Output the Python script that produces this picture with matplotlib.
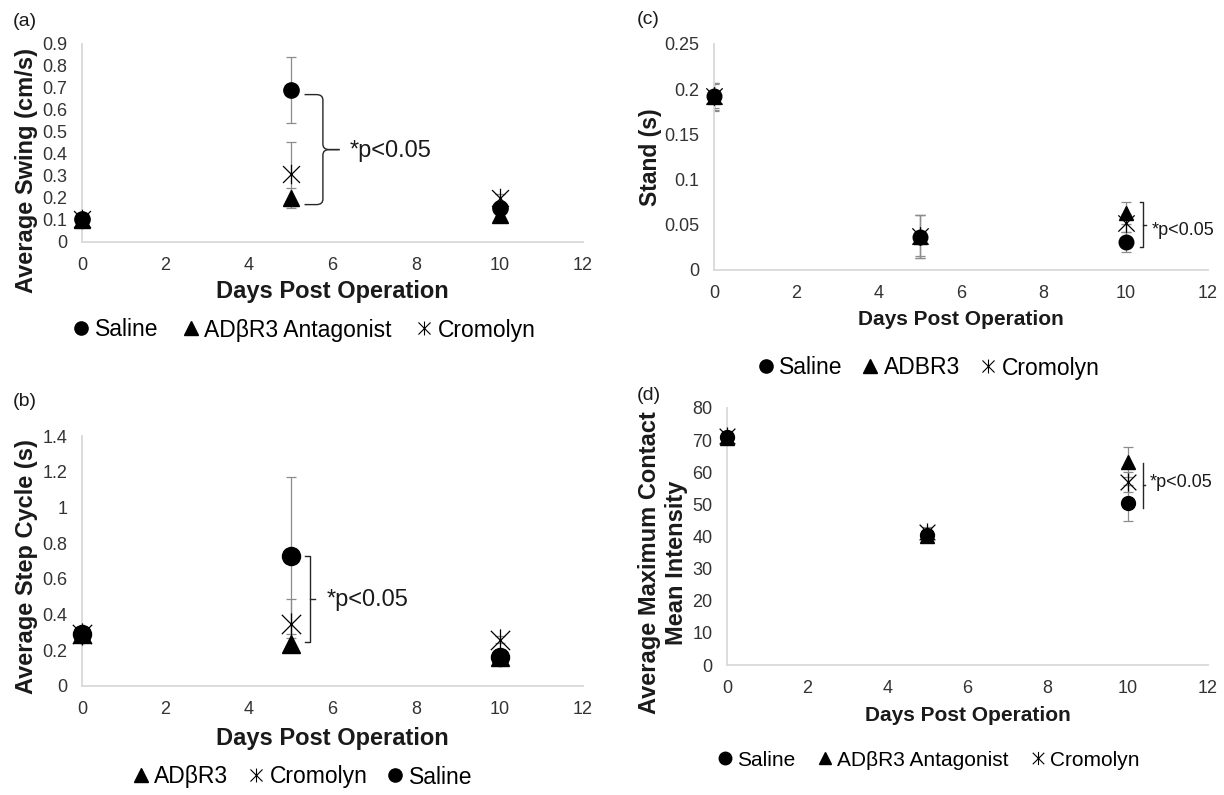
import matplotlib
matplotlib.use("Agg")
import matplotlib.pyplot as plt
from matplotlib.lines import Line2D
from matplotlib.path import Path
from matplotlib.patches import PathPatch

plt.rcParams["font.family"] = ["Liberation Sans", "DejaVu Sans"]

# ---- data ----
days = [0, 5, 10]

# (a) average swing (cm/s)
swing_saline = [0.105, 0.69, 0.155]
swing_saline_err = [0.01, 0.15, 0.02]
swing_adbr3 = [0.10, 0.20, 0.125]
swing_adbr3_err = [0.01, 0.045, 0.01]
swing_cromolyn = [0.105, 0.31, 0.20]
swing_cromolyn_err = [0.01, 0.145, 0.02]

# (b) average step cycle (s)
step_adbr3 = [0.29, 0.235, 0.16]
step_adbr3_err = [0.01, 0.035, 0.01]
step_cromolyn = [0.29, 0.35, 0.26]
step_cromolyn_err = [0.01, 0.14, 0.02]
step_saline = [0.29, 0.73, 0.165]
step_saline_err = [0.01, 0.44, 0.02]

# (c) stand (s)
stand_saline = [0.192, 0.037, 0.031]
stand_saline_err = [0.015, 0.024, 0.011]
stand_adbr3 = [0.191, 0.037, 0.063]
stand_adbr3_err = [0.015, 0.024, 0.012]
stand_cromolyn = [0.193, 0.038, 0.052]
stand_cromolyn_err = [0.014, 0.023, 0.01]

# (d) average maximum contact mean intensity
contact_saline = [71.0, 40.5, 50.4]
contact_saline_err = [1.5, 1.5, 5.6]
contact_adbr3 = [70.8, 40.3, 63.3]
contact_adbr3_err = [1.5, 1.5, 4.7]
contact_cromolyn = [71.2, 41.5, 57.0]
contact_cromolyn_err = [1.5, 1.5, 3.0]

x_ticks = [0, 2, 4, 6, 8, 10, 12]

STAR = Path([(-1, -1), (1, 1), (-1, 1), (1, -1), (0, -1.15), (0, 1.15)],
            [Path.MOVETO, Path.LINETO, Path.MOVETO, Path.LINETO, Path.MOVETO, Path.LINETO])
MARKERS = {"saline": "o", "adbr3": "^", "cromolyn": STAR}
ERR_COLOR = "#8c8c8c"
SPINE_COLOR = "#d9d9d9"
TEXT_COLOR = "#1a1a1a"


def style_axes(ax, ylim, yticks, ylabels):
    ax.set_xlim(0, 12)
    ax.set_ylim(*ylim)
    ax.set_xticks(x_ticks)
    ax.set_xticklabels([str(t) for t in x_ticks])
    ax.set_yticks(yticks)
    ax.set_yticklabels(ylabels)
    for side in ("top", "right"):
        ax.spines[side].set_visible(False)
    for side in ("left", "bottom"):
        ax.spines[side].set_color(SPINE_COLOR)
        ax.spines[side].set_linewidth(1.3)
    ax.tick_params(length=0, labelsize=13, colors="#333333")
    ax.tick_params(axis="x", pad=11)
    ax.tick_params(axis="y", pad=10.5)


def draw_series(ax, values, errors, kind, ms):
    ax.errorbar(days, values, yerr=errors, fmt="none", ecolor=ERR_COLOR,
                elinewidth=0.9, capsize=3.5, capthick=0.9, zorder=2)
    if kind == "cromolyn":
        ax.plot(days, values, linestyle="none", marker=STAR, ms=ms + 3,
                mec="black", mfc="none", mew=0.9, zorder=3, clip_on=False)
    else:
        ax.plot(days, values, linestyle="none", marker=MARKERS[kind], ms=ms,
                mec="black", mfc="black", zorder=3, clip_on=False)


def square_bracket(ax, x, ytop, ybot, stub, tick):
    ymid = (ytop + ybot) / 2
    ax.plot([x - stub, x, x, x - stub], [ytop, ytop, ybot, ybot],
            color="#262626", lw=1, clip_on=False)
    ax.plot([x, x + tick], [ymid, ymid], color="#262626", lw=1, clip_on=False)


def curly_brace(ax, x0, x1, xtip, ytop, ybot):
    ymid = (ytop + ybot) / 2
    dx = (x1 - x0) * 0.35
    dy = (ytop - ybot) * 0.05
    for yend, sgn in ((ytop, 1), (ybot, -1)):
        verts = [(x0, yend), (x1 - dx, yend), (x1, yend), (x1, yend - sgn * dy),
                 (x1, ymid + sgn * dy), (x1, ymid), (x1 + dx, ymid), (xtip, ymid)]
        codes = [Path.MOVETO, Path.LINETO, Path.CURVE3, Path.CURVE3,
                 Path.LINETO, Path.CURVE3, Path.CURVE3, Path.LINETO]
        ax.add_patch(PathPatch(Path(verts, codes), fill=False, lw=1,
                               edgecolor="#262626", clip_on=False))


def legend_handles(order, labels, ms):
    handles = []
    for kind, label in zip(order, labels):
        if kind == "cromolyn":
            h = Line2D([], [], linestyle="none", marker=STAR, ms=ms + 0.5,
                       mec="black", mfc="none", mew=0.8, label=label)
        else:
            h = Line2D([], [], linestyle="none", marker=MARKERS[kind], ms=ms,
                       mec="black", mfc="black", label=label)
        handles.append(h)
    return handles


fig = plt.figure(figsize=(12.24, 7.95), dpi=100)
W, H = 1224, 795


def add_axes_px(x0, x1, ytop, ybot):
    return fig.add_axes([x0 / W, 1 - ybot / H, (x1 - x0) / W, (ybot - ytop) / H])


def add_legend(order, labels, cx, cy, size, ms, colsp):
    fig.legend(handles=legend_handles(order, labels, ms), loc="center",
               bbox_to_anchor=(cx / W, 1 - cy / H), ncol=3, frameon=False,
               fontsize=size, handlelength=0.6, handletextpad=0.3,
               columnspacing=colsp, borderpad=0)


bold = dict(fontweight="bold", color=TEXT_COLOR)

# ---------------- (a) ----------------
ax_a = add_axes_px(82, 583, 44, 242)
draw_series(ax_a, swing_saline, swing_saline_err, "saline", 11)
draw_series(ax_a, swing_adbr3, swing_adbr3_err, "adbr3", 11)
draw_series(ax_a, swing_cromolyn, swing_cromolyn_err, "cromolyn", 11)
yt = [i / 10 for i in range(10)]
style_axes(ax_a, (0, 0.9), yt, [f"{v:g}" for v in yt])
ax_a.set_xlabel("Days Post Operation", fontsize=17, **bold)
ax_a.xaxis.set_label_coords(0.5, -0.192)
ax_a.set_ylabel("Average Swing (cm/s)", fontsize=17, **bold)
ax_a.yaxis.set_label_coords(-0.087, 0.36)
curly_brace(ax_a, days[1] + 0.33, days[1] + 0.77, days[1] + 1.17,
            swing_saline[1] - 0.02, swing_adbr3[1] - 0.03)
ax_a.text(days[1] + 1.4, (swing_saline[1] + swing_adbr3[1]) / 2 - 0.03, "*p<0.05",
          fontsize=17, color=TEXT_COLOR, va="center", ha="left")
fig.text(13 / W, 1 - 22 / H, "(a)", fontsize=14, color=TEXT_COLOR, va="center")
add_legend(["saline", "adbr3", "cromolyn"], ["Saline", "ADβR3 Antagonist", "Cromolyn"],
           305, 330, 16.5, 9.5, 1.1)

# ---------------- (b) ----------------
ax_b = add_axes_px(82, 583, 436, 686)
draw_series(ax_b, step_adbr3, step_adbr3_err, "adbr3", 13)
draw_series(ax_b, step_cromolyn, step_cromolyn_err, "cromolyn", 13)
draw_series(ax_b, step_saline, step_saline_err, "saline", 13)
yt = [i / 5 for i in range(8)]
style_axes(ax_b, (0, 1.4), yt, [f"{v:g}" for v in yt])
ax_b.set_xlabel("Days Post Operation", fontsize=17, **bold)
ax_b.xaxis.set_label_coords(0.5, -0.164)
ax_b.set_ylabel("Average Step Cycle (s)", fontsize=17, **bold)
ax_b.yaxis.set_label_coords(-0.087, 0.476)
square_bracket(ax_b, days[1] + 0.47, step_saline[1], step_adbr3[1] + 0.01, 0.14, 0.1)
ax_b.text(days[1] + 0.85, (step_saline[1] + step_adbr3[1]) / 2, "*p<0.05",
          fontsize=17, color=TEXT_COLOR, va="center", ha="left")
fig.text(13 / W, 1 - 401 / H, "(b)", fontsize=14, color=TEXT_COLOR, va="center")
add_legend(["adbr3", "cromolyn", "saline"], ["ADβR3", "Cromolyn", "Saline"],
           303, 777, 16.5, 9.5, 0.9)

# ---------------- (c) ----------------
ax_c = add_axes_px(714, 1208, 44, 270)
draw_series(ax_c, stand_saline, stand_saline_err, "saline", 10.5)
draw_series(ax_c, stand_adbr3, stand_adbr3_err, "adbr3", 10.5)
draw_series(ax_c, stand_cromolyn, stand_cromolyn_err, "cromolyn", 10.5)
yt = [i * 0.05 for i in range(6)]
style_axes(ax_c, (0, 0.25), yt, ["0", "0.05", "0.1", "0.15", "0.2", "0.25"])
ax_c.set_xlabel("Days Post Operation", fontsize=15, **bold)
ax_c.xaxis.set_label_coords(0.5, -0.179)
ax_c.set_ylabel("Stand (s)", fontsize=16.5, **bold)
ax_c.yaxis.set_label_coords(-0.105, 0.5)
square_bracket(ax_c, days[2] + 0.42, stand_adbr3[2] + 0.012, stand_saline[2] - 0.006, 0.07, 0.08)
ax_c.text(days[2] + 0.62, (stand_adbr3[2] + stand_saline[2]) / 2 - 0.003, "*p<0.05",
          fontsize=13, color=TEXT_COLOR, va="center", ha="left")
fig.text(637 / W, 1 - 19 / H, "(c)", fontsize=14, color=TEXT_COLOR, va="center")
add_legend(["saline", "adbr3", "cromolyn"], ["Saline", "ADBR3", "Cromolyn"],
           929, 368, 16.5, 9.5, 0.9)

# ---------------- (d) ----------------
ax_d = add_axes_px(727, 1208, 408, 665)
draw_series(ax_d, contact_saline, contact_saline_err, "saline", 10)
draw_series(ax_d, contact_adbr3, contact_adbr3_err, "adbr3", 10)
draw_series(ax_d, contact_cromolyn, contact_cromolyn_err, "cromolyn", 10)
yt = list(range(0, 81, 10))
style_axes(ax_d, (0, 80), yt, [str(v) for v in yt])
ax_d.set_xlabel("Days Post Operation", fontsize=15, **bold)
ax_d.xaxis.set_label_coords(0.5, -0.16)
ax_d.set_ylabel("Average Maximum Contact\nMean Intensity", fontsize=17,
                linespacing=1.2, **bold)
ax_d.yaxis.set_label_coords(-0.081, 0.397)
square_bracket(ax_d, days[2] + 0.37, contact_adbr3[2] - 0.4, contact_saline[2] - 1.5, 0.0, 0.05)
ax_d.text(days[2] + 0.55, (contact_adbr3[2] + contact_saline[2]) / 2, "*p<0.05",
          fontsize=13, color=TEXT_COLOR, va="center", ha="left")
fig.text(637 / W, 1 - 395 / H, "(d)", fontsize=14, color=TEXT_COLOR, va="center")
add_legend(["saline", "adbr3", "cromolyn"], ["Saline", "ADβR3 Antagonist", "Cromolyn"],
           929, 760, 15, 9, 1.1)

fig.savefig("out.png", dpi=100)
